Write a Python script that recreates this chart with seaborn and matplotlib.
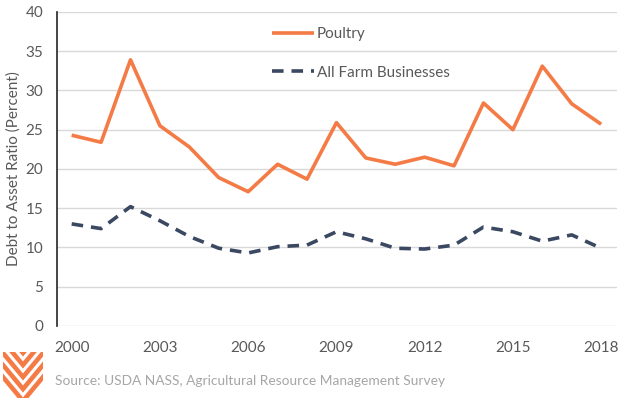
import matplotlib.pyplot as plt
import seaborn as sns
import pandas as pd

years = list(range(2000, 2019))
poultry = [24.3, 23.4, 33.9, 25.5, 22.8, 18.9, 17.1, 20.6, 18.7, 25.9,
           21.4, 20.6, 21.5, 20.4, 28.4, 25.0, 33.1, 28.3, 25.7]
all_farm = [13.0, 12.4, 15.2, 13.4, 11.4, 9.9, 9.3, 10.1, 10.3, 12.0,
            11.1, 9.9, 9.8, 10.3, 12.6, 12.0, 10.8, 11.6, 9.9]
series_names = ['Poultry', 'All Farm Businesses']
year_ticks = [2000, 2003, 2006, 2009, 2012, 2015, 2018]

df = pd.DataFrame({
    'year': years * 2,
    'value': poultry + all_farm,
    'series': [series_names[0]] * len(years) + [series_names[1]] * len(years),
})

sns.set_style('white')
plt.rcParams['font.family'] = ['Lato', 'DejaVu Sans']

orange = '#F47B45'
navy = '#3A4861'
txt = '#595959'

fig = plt.figure(figsize=(6.24, 3.98), dpi=100)
ax = fig.add_axes([0.0913, 0.181, 0.898, 0.789])

sns.lineplot(data=df, x='year', y='value', hue='series', style='series',
             palette=[orange, navy], dashes=[(1, 0), (3.2, 2.2)],
             linewidth=2.6, ax=ax)

ax.set_xlim(1999.5, 2018.55)
ax.set_ylim(0, 40)
ax.set_yticks(range(0, 41, 5))
ax.set_xticks(year_ticks)
ax.yaxis.grid(True, color='#D9D9D9', linewidth=1)
ax.set_axisbelow(True)
for s in ['top', 'right', 'bottom']:
    ax.spines[s].set_visible(False)
ax.spines['left'].set_color('#262626')
ax.spines['left'].set_linewidth(1.2)
ax.tick_params(axis='both', colors=txt, labelsize=11, length=0)
ax.tick_params(axis='y', pad=10)
ax.tick_params(axis='x', pad=11)
ax.set_xlabel('')
ax.set_ylabel('Debt to Asset Ratio (Percent)', color=txt, fontsize=11, labelpad=3)

leg = ax.legend(loc='upper left', bbox_to_anchor=(0.36, 0.995), frameon=False,
                fontsize=11, labelspacing=1.6, handlelength=2.7, handletextpad=0.2)
for t in leg.get_texts():
    t.set_color(txt)

fig.text(0.088, 0.033, 'Source: USDA NASS, Agricultural Resource Management Survey',
         color='#A6A6A6', fontsize=9.9)

# logo: stacked chevrons clipped to a box (pixel coords, y down)
lg = fig.add_axes([0.0, 0.0, 48 / 624, 53 / 398])
lg.set_xlim(0, 48)
lg.set_ylim(53, 0)
lg.axis('off')
clip = plt.Rectangle((3, 7), 40, 46, transform=lg.transData)
for y0 in [-34, -22, -10, 2, 14, 26]:
    ln, = lg.plot([-12, 23, 58], [y0 - 12, y0 + 30, y0 - 12], color=orange,
                  linewidth=3.3, solid_joinstyle='miter', solid_capstyle='butt')
    ln.set_clip_path(clip)

fig.savefig('out.png', dpi=100)
